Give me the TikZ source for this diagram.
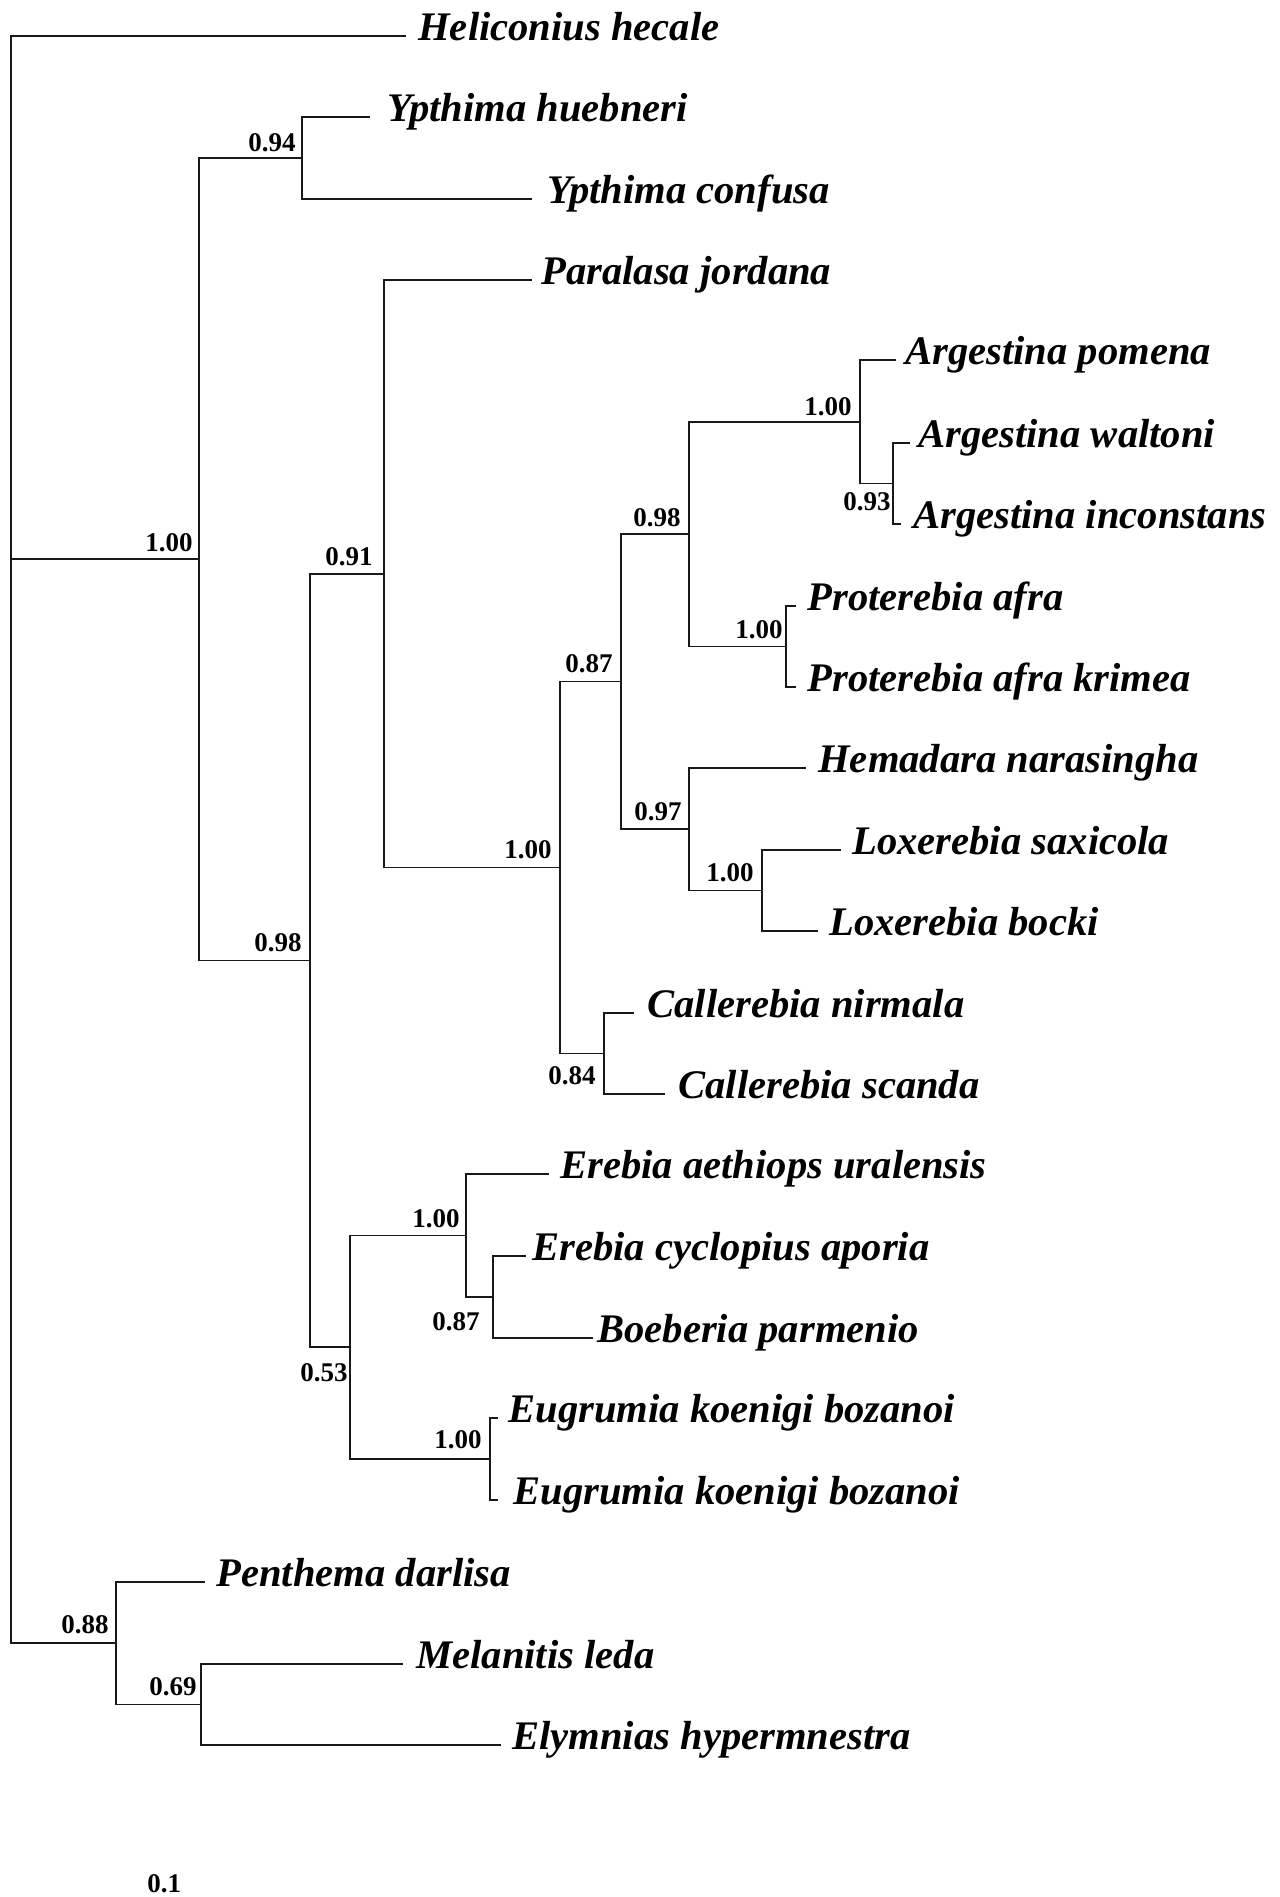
\documentclass[tikz,border=0pt]{standalone}
\usepackage{fontspec}
\setmainfont{Liberation Serif}
\begin{document}
\begin{tikzpicture}[x=0.5pt,y=-0.5pt,
  branch/.style={line width=0.85pt,draw=black!90,line cap=rect},
  taxon/.style={anchor=base west,inner sep=0pt,yshift=2pt,font=\bfseries\itshape\fontsize{20.3pt}{24pt}\selectfont},
  supval/.style={anchor=base east,inner sep=0pt,font=\bfseries\fontsize{13.5pt}{16pt}\selectfont}]
\useasboundingbox[fill=white] (0,0) rectangle (1280,1897);

% ---- internal nodes ----
\coordinate (root) at (11,840);
\coordinate (n100) at (199,559);
\coordinate (n94) at (302,158);
\coordinate (n98) at (310,960.5);
\coordinate (n91) at (384,574);
\coordinate (nBig) at (560,867.5);
\coordinate (n87) at (621,681.5);
\coordinate (n98b) at (689,534);
\coordinate (nArg) at (860,422);
\coordinate (n93) at (893,483.5);
\coordinate (nPro) at (786,646.5);
\coordinate (n97) at (689,829);
\coordinate (nLox) at (762,890.5);
\coordinate (n84) at (604,1053.5);
\coordinate (n53) at (350,1347);
\coordinate (nEre) at (466,1235.5);
\coordinate (n87b) at (493,1297);
\coordinate (nEug) at (490,1459);
\coordinate (n88) at (116,1643);
\coordinate (n69) at (201,1704.5);

% ---- branch ends of the taxa ----
\coordinate (e0) at (405,36);
\coordinate (e1) at (369,117);
\coordinate (e2) at (531,199);
\coordinate (e3) at (531,280);
\coordinate (e4) at (895,360);
\coordinate (e5) at (909,443);
\coordinate (e6) at (900,524);
\coordinate (e7) at (795,606);
\coordinate (e8) at (795,687);
\coordinate (e9) at (805,768);
\coordinate (e10) at (840,850);
\coordinate (e11) at (817,931);
\coordinate (e12) at (633,1013);
\coordinate (e13) at (664,1094);
\coordinate (e14) at (548,1174);
\coordinate (e15) at (525,1256);
\coordinate (e16) at (592,1338);
\coordinate (e17) at (497,1418);
\coordinate (e18) at (497,1500);
\coordinate (e19) at (204,1582);
\coordinate (e20) at (402,1664);
\coordinate (e21) at (500,1745);

% ---- taxon names ----
\node[taxon] (t0) at (418,44) {Heliconius hecale};
\node[taxon] (t1) at (387,125) {Ypthima huebneri};
\node[taxon] (t2) at (547,207) {Ypthima confusa};
\node[taxon] (t3) at (541,288) {Paralasa jordana};
\node[taxon] (t4) at (905,368) {Argestina pomena};
\node[taxon] (t5) at (918,451) {Argestina waltoni};
\node[taxon] (t6) at (913,532) {Argestina inconstans};
\node[taxon] (t7) at (807,614) {Proterebia afra};
\node[taxon] (t8) at (807,695) {Proterebia afra krimea};
\node[taxon] (t9) at (818,776) {Hemadara narasingha};
\node[taxon] (t10) at (852,858) {Loxerebia saxicola};
\node[taxon] (t11) at (829,939) {Loxerebia bocki};
\node[taxon] (t12) at (647,1021) {Callerebia nirmala};
\node[taxon] (t13) at (678,1102) {Callerebia scanda};
\node[taxon] (t14) at (560,1182) {Erebia aethiops uralensis};
\node[taxon] (t15) at (532,1264) {Erebia cyclopius aporia};
\node[taxon] (t16) at (597,1346) {Boeberia parmenio};
\node[taxon] (t17) at (508,1426) {Eugrumia koenigi bozanoi};
\node[taxon] (t18) at (513,1508) {Eugrumia koenigi bozanoi};
\node[taxon] (t19) at (216,1590) {Penthema darlisa};
\node[taxon] (t20) at (416,1672) {Melanitis leda};
\node[taxon] (t21) at (512,1753) {Elymnias hypermnestra};

% ---- branches ----
\draw[branch] (root) |- (e0);
\draw[branch] (root) |- (n100);
\draw[branch] (root) |- (n88);
\draw[branch] (n100) |- (n94);
\draw[branch] (n100) |- (n98);
\draw[branch] (n94) |- (e1);
\draw[branch] (n94) |- (e2);
\draw[branch] (n98) |- (n91);
\draw[branch] (n98) |- (n53);
\draw[branch] (n91) |- (e3);
\draw[branch] (n91) |- (nBig);
\draw[branch] (nBig) |- (n87);
\draw[branch] (nBig) |- (n84);
\draw[branch] (n87) |- (n98b);
\draw[branch] (n87) |- (n97);
\draw[branch] (n98b) |- (nArg);
\draw[branch] (n98b) |- (nPro);
\draw[branch] (nArg) |- (e4);
\draw[branch] (nArg) |- (n93);
\draw[branch] (n93) |- (e5);
\draw[branch] (n93) |- (e6);
\draw[branch] (nPro) |- (e7);
\draw[branch] (nPro) |- (e8);
\draw[branch] (n97) |- (e9);
\draw[branch] (n97) |- (nLox);
\draw[branch] (nLox) |- (e10);
\draw[branch] (nLox) |- (e11);
\draw[branch] (n84) |- (e12);
\draw[branch] (n84) |- (e13);
\draw[branch] (n53) |- (nEre);
\draw[branch] (n53) |- (nEug);
\draw[branch] (nEre) |- (e14);
\draw[branch] (nEre) |- (n87b);
\draw[branch] (n87b) |- (e15);
\draw[branch] (n87b) |- (e16);
\draw[branch] (nEug) |- (e17);
\draw[branch] (nEug) |- (e18);
\draw[branch] (n88) |- (e19);
\draw[branch] (n88) |- (n69);
\draw[branch] (n69) |- (e20);
\draw[branch] (n69) |- (e21);

% ---- support values ----
\node[supval] (s100) at (193,551) {1.00};
\node[supval] (s94) at (296,151) {0.94};
\node[supval] (s98) at (302,951) {0.98};
\node[supval] (s91) at (373,565) {0.91};
\node[supval] (sBig) at (552,858) {1.00};
\node[supval] (s87) at (613,672) {0.87};
\node[supval] (s98b) at (681,526) {0.98};
\node[supval] (sArg) at (852,415) {1.00};
\node[supval] (s93) at (891,510) {0.93};
\node[supval] (sPro) at (783,638) {1.00};
\node[supval] (s97) at (682,820) {0.97};
\node[supval] (sLox) at (754,881) {1.00};
\node[supval] (s84) at (596,1084) {0.84};
\node[supval] (sEre) at (460,1227) {1.00};
\node[supval] (s87b) at (480,1330) {0.87};
\node[supval] (s53) at (348,1381) {0.53};
\node[supval] (sEug) at (482,1448) {1.00};
\node[supval] (s88) at (109,1633) {0.88};
\node[supval] (s69) at (197,1695) {0.69};
\node[supval,anchor=base west] (scale) at (147,1892) {0.1};
\end{tikzpicture}
\end{document}
